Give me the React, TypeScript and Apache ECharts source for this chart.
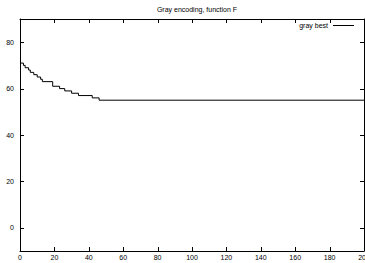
import React, { useEffect, useRef } from "react";
import * as echarts from "echarts";

const titleText = "Gray encoding, function F";
const seriesName = "gray best";
// generation at which each value starts (step function)
const generations = [0, 2, 3, 5, 6, 8, 10, 12, 13, 19, 23, 26, 30, 34, 42, 46, 200];
const bestValues = [71, 70, 69, 68, 67, 66, 65, 64, 63, 61, 60, 59, 58, 57, 56, 55, 55];
const xTicks = [0, 20, 40, 60, 80, 100, 120, 140, 160, 180, 200];
const yTicks = [0, 20, 40, 60, 80];
const xMin = 0;
const xMax = 200;
const yMin = -10;
const yMax = 90;

export default function App() {
  const ref = useRef<HTMLDivElement>(null);
  useEffect(() => {
    if (!ref.current) return;
    const chart = echarts.init(ref.current, undefined, { renderer: "svg" });
    const font = "Liberation Sans, Arial, sans-serif";
    const TL = 4;
    const mkLine = () => ({ show: true, onZero: false, lineStyle: { color: "#000", width: 1 } });
    const labelStyle = { fontSize: 7, color: "#000", fontFamily: font };
    chart.setOption({
      animation: false,
      backgroundColor: "#fff",
      title: {
        text: titleText,
        left: 192,
        textAlign: "center",
        top: 1,
        textStyle: { fontSize: 7, fontWeight: "normal", color: "#000", fontFamily: font },
      },
      legend: {
        data: [seriesName],
        right: 6,
        top: 17,
        align: "right",
        icon: "rect",
        itemWidth: 21,
        itemHeight: 1,
        itemGap: 4,
        textStyle: { ...labelStyle, padding: [0, 0, 0, 0] },
      },
      grid: {
        left: 20,
        right: 1,
        top: 19,
        bottom: 12,
        containLabel: false,
        outerBounds: { left: -60, right: -60, top: -60, bottom: -60 },
      },
      xAxis: [
        {
          type: "value",
          position: "bottom",
          min: xMin,
          max: xMax,
          interval: 20,
          axisLine: mkLine(),
          axisTick: { show: false },
          splitLine: { show: false },
          axisLabel: { ...labelStyle, margin: 3, hideOverlap: false, showMaxLabel: true },
        },
        {
          type: "value",
          position: "top",
          min: xMin,
          max: xMax,
          interval: 20,
          axisLine: mkLine(),
          axisTick: { show: false },
          splitLine: { show: false },
          axisLabel: { show: false },
        },
      ],
      yAxis: [
        {
          type: "value",
          position: "left",
          min: yMin,
          max: yMax,
          interval: 10,
          axisLine: mkLine(),
          axisTick: { show: false },
          splitLine: { show: false },
          axisLabel: {
            ...labelStyle,
            margin: 6,
            formatter: (v: number) => (yTicks.includes(v) ? String(v) : ""),
          },
        },
        {
          type: "value",
          position: "right",
          min: yMin,
          max: yMax,
          interval: 10,
          axisLine: mkLine(),
          axisTick: { show: false },
          splitLine: { show: false },
          axisLabel: { show: false },
        },
      ],
      series: [
        {
          name: seriesName,
          type: "line",
          step: "end",
          showSymbol: false,
          symbol: "none",
          xAxisIndex: 0,
          yAxisIndex: 0,
          lineStyle: { color: "#000", width: 1 },
          itemStyle: { color: "#000" },
          data: generations.map((g, i) => [g, bestValues[i]]),
        },
      ],
    });

    // tick marks placed through the chart's own scales
    const toPx = (p: number[]) => chart.convertToPixel({ gridIndex: 0 }, p) as number[];
    const crisp = (v: number) => Math.round(v) + 0.5;
    const style = { stroke: "#000", lineWidth: 1 };
    const ticks: any[] = [];
    xTicks.forEach((v) => {
      const b = toPx([v, yMin]);
      const t = toPx([v, yMax]);
      ticks.push({ type: "line", silent: true, z: 100, shape: { x1: crisp(b[0]), y1: b[1], x2: crisp(b[0]), y2: b[1] - TL }, style });
      ticks.push({ type: "line", silent: true, z: 100, shape: { x1: crisp(t[0]), y1: t[1], x2: crisp(t[0]), y2: t[1] + TL }, style });
    });
    yTicks.forEach((v) => {
      const l = toPx([xMin, v]);
      const r = toPx([xMax, v]);
      ticks.push({ type: "line", silent: true, z: 100, shape: { x1: l[0], y1: crisp(l[1]), x2: l[0] + TL, y2: crisp(l[1]) }, style });
      ticks.push({ type: "line", silent: true, z: 100, shape: { x1: r[0], y1: crisp(r[1]), x2: r[0] - TL, y2: crisp(r[1]) }, style });
    });
    chart.setOption({ graphic: ticks });

    return () => chart.dispose();
  }, []);
  return <div ref={ref} style={{ width: 365, height: 263, position: "absolute", left: 0, top: 0 }} />;
}
